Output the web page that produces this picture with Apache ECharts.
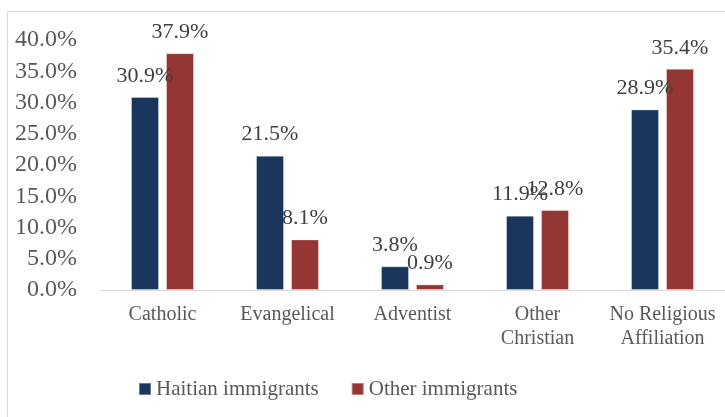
<!DOCTYPE html>
<html>
<head>
<meta charset="utf-8">
<script src="https://cdn.jsdelivr.net/npm/echarts@6/dist/echarts.min.js"></script>
<style>
  html, body { margin: 0; padding: 0; background: #fff; }
  #chart { width: 725px; height: 417px; }
</style>
</head>
<body>
<div id="chart"></div>
<script>
// Religious affiliation shares, by immigrant group
const categories = ['Catholic', 'Evangelical', 'Adventist', 'Other\nChristian', 'No Religious\nAffiliation'];
const haitian = [30.9, 21.5, 3.8, 11.9, 28.9];
const other = [37.9, 8.1, 0.9, 12.8, 35.4];
const seriesNames = ['Haitian immigrants', 'Other immigrants'];

const FONT = '"Liberation Serif", "DejaVu Serif", serif';
const pct = v => v.toFixed(1) + '%';

const chart = echarts.init(document.getElementById('chart'), null, { renderer: 'canvas' });

const labelStyle = {
  show: true,
  position: 'top',
  distance: 10,
  fontFamily: FONT,
  fontSize: 22,
  color: '#404040',
  formatter: p => pct(p.value)
};

chart.setOption({
  animation: false,
  backgroundColor: '#fff',
  graphic: [{
    type: 'rect',
    silent: true,
    shape: { x: 7.5, y: 11.5, width: 800, height: 500 },
    style: { fill: 'none', stroke: '#d9d9d9', lineWidth: 1 }
  }],
  grid: { left: 100, right: 0, top: 40, bottom: 127, containLabel: false },
  legend: {
    data: seriesNames,
    left: 133,
    top: 372,
    itemWidth: 12,
    itemHeight: 12,
    itemGap: 32,
    icon: 'rect',
    textStyle: { fontFamily: FONT, fontSize: 21, color: '#595959', lineHeight: 24 }
  },
  xAxis: {
    type: 'category',
    data: categories,
    axisLine: { show: true, lineStyle: { color: '#d9d9d9', width: 1 } },
    axisTick: { show: false },
    axisLabel: {
      interval: 0,
      margin: 13,
      fontFamily: FONT,
      fontSize: 20,
      lineHeight: 24,
      color: '#595959'
    }
  },
  yAxis: {
    type: 'value',
    min: 0,
    max: 40,
    interval: 5,
    axisLine: { show: false },
    axisTick: { show: false },
    splitLine: { show: false },
    axisLabel: {
      margin: 23,
      fontFamily: FONT,
      fontSize: 24,
      color: '#595959',
      formatter: v => pct(v)
    }
  },
  series: [
    {
      name: seriesNames[0],
      type: 'bar',
      data: haitian,
      barWidth: 28,
      barGap: '25%',
      itemStyle: { color: '#1b365c', borderColor: 'rgba(255,255,255,0.35)', borderWidth: 1 },
      label: labelStyle
    },
    {
      name: seriesNames[1],
      type: 'bar',
      data: other,
      barWidth: 28,
      itemStyle: { color: '#943634', borderColor: 'rgba(255,255,255,0.35)', borderWidth: 1 },
      label: labelStyle
    }
  ]
});
</script>
</body>
</html>
